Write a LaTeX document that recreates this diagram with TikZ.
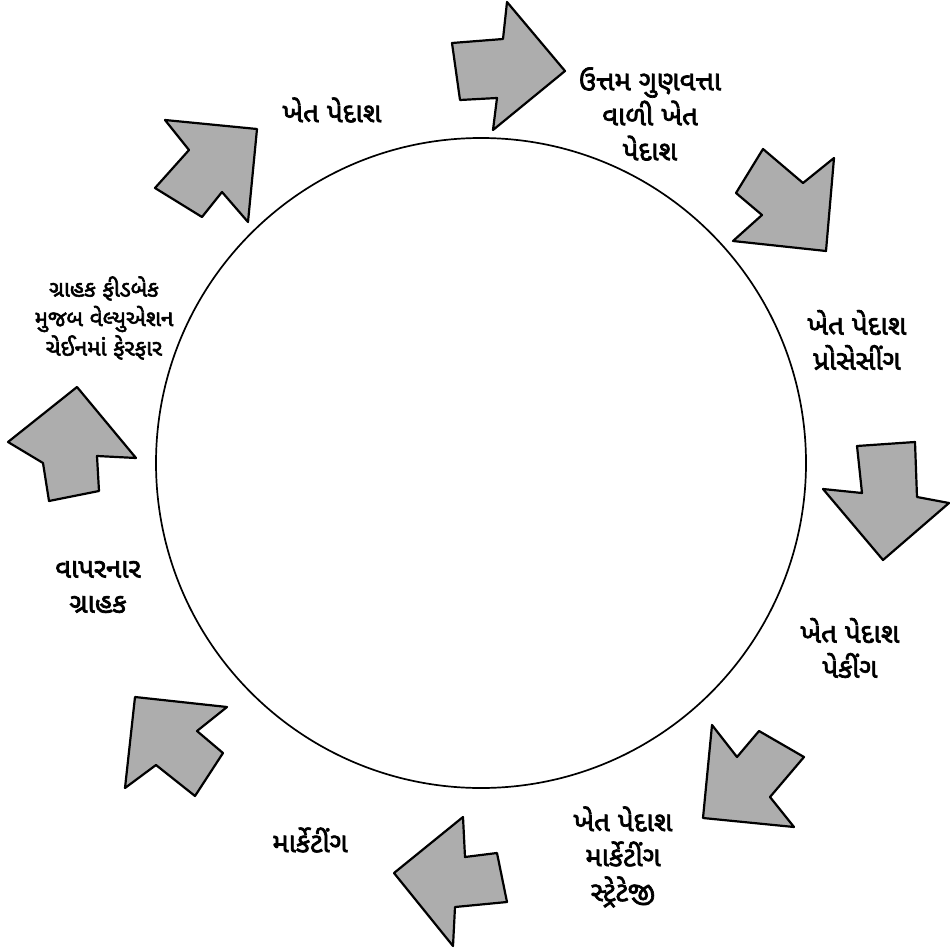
\documentclass[tikz,border=0pt]{standalone}
\usepackage{fontspec}
\newfontfamily\guj[Script=Gujarati,FakeBold=2.5]{Noto Sans Gujarati UI}
\begin{document}
\begin{tikzpicture}[x=1pt,y=-1pt,
  blockarrow/.style={draw=black, line width=2.2pt, line join=round, fill=black!32},
  lbl/.style={font=\guj\fontsize{27.5}{35}\selectfont, align=center, inner sep=0pt},
  lblsmall/.style={font=\guj\fontsize{22.5}{29.5}\selectfont, align=center, inner sep=0pt}]
\useasboundingbox (0,0) rectangle (950,950);
\fill[white] (0,0) rectangle (950,950);
% circle
\node[circle, draw, line width=1.7pt, minimum size=650pt, inner sep=0pt] (cyc) at (481,463) {};
% arrows
\draw[blockarrow] (452,43) -- (503,39) -- (507,2) -- (565,71) -- (493,130) -- (497,98) -- (460,100) -- cycle;
\draw[blockarrow] (165,120) -- (257,129) -- (248,222) -- (222,192) -- (202,217) -- (155,188) -- (189,150) -- cycle;
\draw[blockarrow] (763,149) -- (803,183) -- (834,158) -- (826,251) -- (733,241) -- (762,215) -- (736,193) -- cycle;
\draw[blockarrow] (857,446) -- (915,442) -- (917,497) -- (949,503) -- (883,560) -- (823,489) -- (862,493) -- cycle;
\draw[blockarrow] (712,725) -- (737,757) -- (759,731) -- (804,757) -- (770,797) -- (794,827) -- (703,818) -- cycle;
\draw[blockarrow] (463,817) -- (465,857) -- (497,853) -- (507,902) -- (455,907) -- (453,946) -- (394,873) -- cycle;
\draw[blockarrow] (135,697) -- (227,707) -- (197,731) -- (223,753) -- (195,796) -- (156,765) -- (125,788) -- cycle;
\draw[blockarrow] (77,387) -- (136,458) -- (97,456) -- (99,491) -- (49,501) -- (43,463) -- (8,442) -- cycle;
% labels
\node[lbl] (t1) at (332,110) {ખેત પેદાશ};
\node[lbl] (t2) at (650,114) {ઉત્તમ ગુણવત્તા\\વાળી ખેત\\પેદાશ};
\node[lbl] (t3) at (857,340) {ખેત પેદાશ\\પ્રોસેસીંગ};
\node[lbl] (t4) at (850,648) {ખેત પેદાશ\\પેકીંગ};
\node[lbl] (t5) at (623,857) {ખેત પેદાશ\\માર્કેટીંગ\\સ્ટ્રેટેજી};
\node[lbl] (t6) at (310,840) {માર્કેટીંગ};
\node[lbl] (t7) at (98,587) {વાપરનાર\\ગ્રાહક};
\node[lblsmall] (t8) at (104,318) {ગ્રાહક ફીડબેક\\મુજબ વેલ્યુએશન\\ચેઈનમાં ફેરફાર};
\end{tikzpicture}
\end{document}
